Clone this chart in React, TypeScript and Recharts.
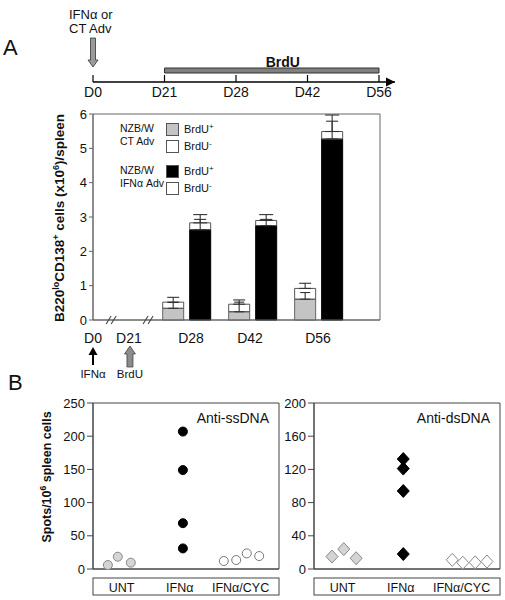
import React from "react";
import {
  Bar,
  BarChart,
  ComposedChart,
  ErrorBar,
  Line,
  ReferenceArea,
  ReferenceDot,
  Label,
  Scatter,
  ScatterChart,
  XAxis,
  YAxis,
} from "recharts";

const FONT = '"Liberation Sans", Arial, Helvetica, sans-serif';
const INK = "#111";
const FRAME = "#666";
const GRAY = "#c4c4c4";

// ---- A: treatment timeline
const timelineDays = ["D0", "D21", "D28", "D42", "D56"];
const timelineNotes: Record<string, string[]> = { D0: ["IFNα or", "CT Adv"] };
const brduFrom = "D21";
const brduTo = "D56";

// ---- A: plasma cell counts (x10^6 / spleen)
const barDays = ["D28", "D42", "D56"];
const barPos = [1.42, 2.42, 3.42]; // place on the broken day axis
const axisDays = ["D0", "D21", "D28", "D42", "D56"];
const axisPos = [0, 0.545, 1.485, 2.38, 3.41];
const axisBreaks = [0.29, 0.85];
const axisNotes: Record<string, { text: string; solid: boolean }> = {
  D0: { text: "IFNα", solid: true },
  D21: { text: "BrdU", solid: false },
};
const yTicksA = [0, 1, 2, 3, 4, 5, 6];

const ctPos = [0.34, 0.24, 0.605];
const ctNeg = [0.18, 0.22, 0.315];
const ctPosErr = [0.17, 0.28, 0.195];
const ctTotErr = [0.14, 0.125, 0.15];
const ifnPos = [2.63, 2.75, 5.27];
const ifnNeg = [0.2, 0.15, 0.22];
const ifnPosErr = [0.3, 0.18, 0.52];
const ifnTotErr = [0.24, 0.17, 0.48];

const legendGroups = [
  { title: ["NZB/W", "CT Adv"], items: [{ sign: "+", fill: GRAY }, { sign: "-", fill: "#fff" }] },
  { title: ["NZB/W", "IFNα Adv"], items: [{ sign: "+", fill: "#000" }, { sign: "-", fill: "#fff" }] },
];

// ---- B: ELISPOT
const groups = ["UNT", "IFNα", "IFNα/CYC"];
const groupTicks = [0.46, 1.4, 2.38];
const yTicksSs = [0, 50, 100, 150, 200, 250];
const yTicksDs = [0, 40, 80, 120, 160, 200];

const ssUntX = [0.24, 0.4, 0.61];
const ssUntY = [6, 18.5, 9.5];
const ssIfnX = [1.45, 1.45, 1.45, 1.45];
const ssIfnY = [207, 149, 69, 31];
const ssCycX = [2.11, 2.31, 2.48, 2.68];
const ssCycY = [12, 13.5, 23.5, 19.5];

const dsUntX = [0.29, 0.48, 0.68];
const dsUntY = [15, 24, 13];
const dsIfnX = [1.44, 1.44, 1.44, 1.44];
const dsIfnY = [132.5, 121, 94, 18];
const dsCycX = [2.23, 2.4, 2.6, 2.79];
const dsCycY = [11, 7.6, 8, 9];

const barData = barDays.map((day, i) => ({
  day,
  pos: barPos[i],
  ctPos: ctPos[i],
  ctNeg: ctNeg[i],
  ifnPos: ifnPos[i],
  ifnNeg: ifnNeg[i],
  ctPosErr: [0, ctPosErr[i]],
  ctTotErr: [0, ctTotErr[i]],
  ifnPosErr: [0, ifnPosErr[i]],
  ifnTotErr: [0, ifnTotErr[i]],
}));

const points = (xs: number[], ys: number[]) => xs.map((x, i) => ({ x, y: ys[i] }));

// arrow polygon, tip at tipY, tail at tailY
function arrowPoints(x: number, tipY: number, tailY: number, headH: number, headW: number, stemW: number) {
  const d = tailY > tipY ? 1 : -1;
  const h = tipY + d * headH;
  return [
    [x, tipY],
    [x + headW / 2, h],
    [x + stemW / 2, h],
    [x + stemW / 2, tailY],
    [x - stemW / 2, tailY],
    [x - stemW / 2, h],
    [x - headW / 2, h],
  ]
    .map((p) => p.join(","))
    .join(" ");
}

function TimelineTick(props: any) {
  const { x, y, payload } = props;
  const note = timelineNotes[payload.value];
  return (
    <g>
      <line x1={x} y1={y} x2={x} y2={y - 7} stroke="#000" strokeWidth={1.2} />
      <text x={x} y={y + 15} textAnchor="middle" fontSize={14} fill={INK} fontFamily={FONT}>
        {payload.value}
      </text>
      {note && (
        <g>
          <polygon points={arrowPoints(x, y - 15, y - 44, 7, 10, 5)} fill="#9a9a9a" stroke="#333" strokeWidth={0.8} />
          {note.map((t, i) => (
            <text key={t} x={x - 24} y={y - 63 + i * 14} fontSize={13} fill={INK} fontFamily={FONT}>
              {t}
            </text>
          ))}
        </g>
      )}
    </g>
  );
}

function DayTick(props: any) {
  const { x, y, payload } = props;
  const label = axisDays[axisPos.indexOf(payload.value)];
  const note = axisNotes[label];
  return (
    <g>
      <text x={x} y={y + 23} textAnchor="middle" fontSize={14} fill={INK} fontFamily={FONT}>
        {label}
      </text>
      {note && (
        <g>
          {note.solid ? (
            <polygon points={arrowPoints(x, y + 27, y + 45, 8, 9, 2)} fill="#000" />
          ) : (
            <polygon points={arrowPoints(x + 1, y + 26, y + 47, 8, 11, 6)} fill="#8c8c8c" stroke="#444" strokeWidth={0.8} />
          )}
          <text x={x + (note.solid ? 0 : 1)} y={y + 58} textAnchor="middle" fontSize={11.5} fill={INK} fontFamily={FONT}>
            {note.text}
          </text>
        </g>
      )}
    </g>
  );
}

function BreakMark(props: any) {
  const { cx, cy } = props;
  return (
    <g stroke="#444" strokeWidth={1.1}>
      <line x1={cx - 6} y1={cy + 4} x2={cx - 1} y2={cy - 4} />
      <line x1={cx - 1} y1={cy + 4} x2={cx + 4} y2={cy - 4} />
    </g>
  );
}

function GroupTick(props: any) {
  const { x, y, payload } = props;
  const label = groups[groupTicks.indexOf(payload.value)];
  return (
    <text x={x} y={y + 23} textAnchor="middle" fontSize={12.5} fill={INK} fontFamily={FONT}>
      {label}
    </text>
  );
}

function GroupBox(props: any) {
  const vb = props.viewBox;
  return <rect x={vb.x} y={vb.y + 9} width={vb.width} height={17} fill="none" stroke="#444" strokeWidth={1} />;
}

function AYLabel(props: any) {
  const vb = props.viewBox;
  const cx = vb.x + 10.5;
  const cy = vb.y + vb.height / 2 + 1;
  return (
    <text
      transform={`translate(${cx},${cy}) rotate(-90)`}
      textAnchor="middle"
      fontSize={13.5}
      fontWeight="bold"
      fill={INK}
      fontFamily={FONT}
    >
      B220
      <tspan fontSize={9} dy={-5}>lo</tspan>
      <tspan dy={5}>CD138</tspan>
      <tspan fontSize={9} dy={-5}>+</tspan>
      <tspan dy={5}> cells (x10</tspan>
      <tspan fontSize={9} dy={-5}>6</tspan>
      <tspan dy={5}>)/spleen</tspan>
    </text>
  );
}

function BYLabel(props: any) {
  const vb = props.viewBox;
  const cx = vb.x - 2;
  const cy = vb.y + vb.height / 2 - 9;
  return (
    <text
      transform={`translate(${cx},${cy}) rotate(-90)`}
      textAnchor="middle"
      fontSize={12.5}
      fontWeight="bold"
      fill={INK}
      fontFamily={FONT}
    >
      Spots/10
      <tspan fontSize={8.5} dy={-5}>6</tspan>
      <tspan dy={5}> spleen cells</tspan>
    </text>
  );
}

const dot = (fill: string, stroke: string) => (p: any) =>
  <circle cx={p.cx} cy={p.cy} r={4.5} fill={fill} stroke={stroke} strokeWidth={1} />;

const diamond = (fill: string, stroke: string) => (p: any) =>
  (
    <polygon
      points={`${p.cx},${p.cy - 6.5} ${p.cx + 6},${p.cy} ${p.cx},${p.cy + 6.5} ${p.cx - 6},${p.cy}`}
      fill={fill}
      stroke={stroke}
      strokeWidth={1}
    />
  );

const tickStyle = { fill: INK, fontSize: 13, fontFamily: FONT };

function Timeline() {
  const data = timelineDays.map((day) => ({ day, v: 0 }));
  return (
    <ComposedChart width={505} height={110} data={data} margin={{ top: 52, right: 110, bottom: 0, left: 93 }}>
      <XAxis
        dataKey="day"
        scale="point"
        padding={{ left: 0, right: 16 }}
        height={28}
        interval={0}
        tickLine={false}
        tickSize={0}
        tickMargin={0}
        tick={TimelineTick}
        axisLine={{ stroke: "#000", strokeWidth: 1.3, markerEnd: "url(#tl-arrow)" }}
      />
      <YAxis hide domain={[0, 30]} />
      <Line dataKey="v" stroke="none" dot={false} isAnimationActive={false} />
      <ReferenceArea x1={brduFrom} x2={brduTo} y1={9} y2={14} fill="#808080" fillOpacity={1} stroke="#333" strokeWidth={1}>
        <Label value="BrdU" position="top" offset={1} dx={11} fontSize={14} fontWeight="bold" fill={INK} fontFamily={FONT} />
      </ReferenceArea>
    </ComposedChart>
  );
}

function CountsChart() {
  return (
    <BarChart
      width={505}
      height={300}
      data={barData}
      margin={{ top: 14, right: 125, bottom: 20, left: 53 }}
      barSize={21}
      barGap={6}
    >
      <XAxis
        type="number"
        dataKey="pos"
        domain={[0, 4.35]}
        ticks={axisPos}
        interval={0}
        height={60}
        tickLine={false}
        tickSize={0}
        tickMargin={0}
        tick={DayTick}
        axisLine={{ stroke: FRAME }}
      />
      <YAxis
        domain={[0, 6]}
        ticks={yTicksA}
        interval={0}
        width={40}
        tickSize={4}
        tickMargin={2}
        tick={tickStyle}
        tickLine={{ stroke: FRAME }}
        axisLine={{ stroke: FRAME }}
        label={AYLabel}
      />
      <ReferenceArea x1={0} x2={4.35} y1={0} y2={6} fill="none" stroke={FRAME} strokeWidth={1} />
      <Bar dataKey="ctPos" stackId="ct" fill={GRAY} stroke="#666" isAnimationActive={false}>
        <ErrorBar dataKey="ctPosErr" width={5} stroke="#333" strokeWidth={1.1} />
      </Bar>
      <Bar dataKey="ctNeg" stackId="ct" fill="transparent" stroke="#555" isAnimationActive={false}>
        <ErrorBar dataKey="ctTotErr" width={6} stroke="#333" strokeWidth={1.1} />
      </Bar>
      <Bar dataKey="ifnPos" stackId="ifn" fill="#000" stroke="#000" isAnimationActive={false}>
        <ErrorBar dataKey="ifnPosErr" width={6} stroke="#333" strokeWidth={1.1} />
      </Bar>
      <Bar dataKey="ifnNeg" stackId="ifn" fill="transparent" stroke="#555" isAnimationActive={false}>
        <ErrorBar dataKey="ifnTotErr" width={7} stroke="#333" strokeWidth={1.1} />
      </Bar>
      {axisBreaks.map((b) => (
        <ReferenceDot key={b} x={b} y={0} shape={BreakMark} />
      ))}
    </BarChart>
  );
}

function Legend() {
  return (
    <div style={{ position: "absolute", left: 118, top: 122, fontSize: 10.5, fontFamily: FONT, color: INK }}>
      {legendGroups.map((g, gi) => (
        <div key={gi} style={{ position: "absolute", left: 0, top: gi * 42, width: 120 }}>
          {g.title.map((t, ti) => (
            <div key={t} style={{ position: "absolute", left: 2, top: ti * 13, lineHeight: "13px", whiteSpace: "nowrap" }}>
              {t}
            </div>
          ))}
          {g.items.map((it, ii) => (
            <div key={ii} style={{ position: "absolute", left: 48, top: 1 + ii * 17, display: "flex", alignItems: "center" }}>
              <span
                style={{
                  width: 11,
                  height: 11,
                  background: it.fill,
                  border: "1px solid #555",
                  display: "inline-block",
                }}
              />
              <span style={{ marginLeft: 5, lineHeight: "13px", whiteSpace: "nowrap", fontSize: 11 }}>
                BrdU<sup style={{ fontSize: 8, verticalAlign: "4px", lineHeight: 0 }}>{it.sign}</sup>
              </span>
            </div>
          ))}
        </div>
      ))}
    </div>
  );
}

type SpotProps = {
  width: number;
  margin: { top: number; right: number; bottom: number; left: number };
  yMax: number;
  yTicks: number[];
  title: string;
  yLabel?: boolean;
  series: { data: { x: number; y: number }[]; shape: (p: any) => React.ReactElement }[];
};

function SpotChart({ width, margin, yMax, yTicks, title, yLabel, series }: SpotProps) {
  return (
    <ScatterChart width={width} height={215} margin={margin}>
      <XAxis
        type="number"
        dataKey="x"
        domain={[0, 3]}
        ticks={groupTicks}
        interval={0}
        height={36}
        tickLine={false}
        tickSize={0}
        tickMargin={0}
        tick={GroupTick}
        axisLine={{ stroke: "#444" }}
        label={GroupBox}
      />
      <YAxis
        type="number"
        dataKey="y"
        domain={[0, yMax]}
        ticks={yTicks}
        interval={0}
        width={40}
        tickSize={6}
        tickMargin={2}
        tick={tickStyle}
        tickLine={{ stroke: "#444" }}
        axisLine={{ stroke: "#444" }}
        label={yLabel ? BYLabel : undefined}
      />
      <ReferenceArea x1={0} x2={3} y1={0} y2={yMax} fill="none" stroke="#444" strokeWidth={1}>
        <Label value={title} position="insideTopRight" offset={10} fontSize={14} fill={INK} fontFamily={FONT} />
      </ReferenceArea>
      {series.map((s, i) => (
        <Scatter key={i} data={s.data} shape={s.shape} isAnimationActive={false} />
      ))}
    </ScatterChart>
  );
}

export default function App() {
  return (
    <div
      style={{
        position: "absolute",
        left: 0,
        top: 0,
        width: 505,
        height: 600,
        background: "#fff",
        overflow: "hidden",
        fontFamily: FONT,
      }}
    >
      <svg width={0} height={0} style={{ position: "absolute" }}>
        <defs>
          <marker
            id="tl-arrow"
            viewBox="0 0 10 10"
            refX={10}
            refY={5}
            markerWidth={9}
            markerHeight={10}
            markerUnits="userSpaceOnUse"
            orient="auto"
          >
            <path d="M0,0 L10,5 L0,10 z" fill="#000" />
          </marker>
        </defs>
      </svg>

      <div style={{ position: "absolute", left: 3, top: 37, fontSize: 22, lineHeight: 1, color: INK }}>A</div>
      <div style={{ position: "absolute", left: 8, top: 372, fontSize: 22, lineHeight: 1, color: INK }}>B</div>

      <div style={{ position: "absolute", left: 0, top: 0 }}>
        <Timeline />
      </div>
      <div style={{ position: "absolute", left: 0, top: 100 }}>
        <CountsChart />
      </div>
      <Legend />

      <div style={{ position: "absolute", left: 0, top: 390 }}>
        <SpotChart
          width={290}
          margin={{ top: 13, right: 11, bottom: 0, left: 53 }}
          yMax={250}
          yTicks={yTicksSs}
          title="Anti-ssDNA"
          yLabel
          series={[
            { data: points(ssUntX, ssUntY), shape: dot("#d4d4d4", "#888") },
            { data: points(ssIfnX, ssIfnY), shape: dot("#000", "#000") },
            { data: points(ssCycX, ssCycY), shape: dot("#fff", "#777") },
          ]}
        />
      </div>
      <div style={{ position: "absolute", left: 270, top: 390 }}>
        <SpotChart
          width={235}
          margin={{ top: 13, right: 5, bottom: 0, left: 4 }}
          yMax={200}
          yTicks={yTicksDs}
          title="Anti-dsDNA"
          series={[
            { data: points(dsUntX, dsUntY), shape: diamond("#d4d4d4", "#888") },
            { data: points(dsIfnX, dsIfnY), shape: diamond("#000", "#000") },
            { data: points(dsCycX, dsCycY), shape: diamond("#fff", "#888") },
          ]}
        />
      </div>
    </div>
  );
}
